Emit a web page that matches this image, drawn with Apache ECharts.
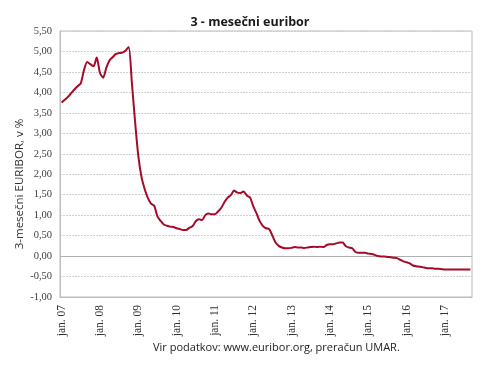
<!DOCTYPE html>
<html>
<head>
<meta charset="utf-8">
<script src="https://cdn.jsdelivr.net/npm/echarts@6/dist/echarts.min.js"></script>
<style>
html,body{margin:0;padding:0;background:#fff;}
#chart{width:490px;height:367px;}
</style>
</head>
<body>
<div id="chart"></div>
<script>
// Data: 3-month Euribor, monthly, Jan 2007 - Sep 2017 (%)
var years = ['07','08','09','10','11','12','13','14','15','16','17'];
var monthNames = ['jan.','feb.','mar.','apr.','maj','jun.','jul.','avg.','sep.','okt.','nov.','dec.'];
var values2007 = [3.75,3.82,3.89,3.98,4.07,4.15,4.22,4.54,4.74,4.69,4.64,4.85];
var values2008 = [4.48,4.36,4.60,4.78,4.86,4.94,4.96,4.97,5.02,5.11,4.24,3.29];
var values2009 = [2.46,1.94,1.64,1.42,1.28,1.23,0.97,0.86,0.77,0.74,0.72,0.71];
var values2010 = [0.68,0.66,0.64,0.64,0.69,0.73,0.85,0.90,0.88,1.00,1.04,1.02];
var values2011 = [1.02,1.09,1.18,1.32,1.43,1.49,1.60,1.55,1.54,1.58,1.48,1.43];
var values2012 = [1.22,1.05,0.86,0.74,0.68,0.66,0.50,0.33,0.25,0.21,0.19,0.19];
var values2013 = [0.20,0.22,0.21,0.21,0.20,0.21,0.22,0.23,0.22,0.23,0.22,0.27];
var values2014 = [0.29,0.29,0.31,0.33,0.33,0.24,0.21,0.19,0.10,0.08,0.08,0.08];
var values2015 = [0.06,0.05,0.03,0.00,-0.01,-0.01,-0.02,-0.03,-0.04,-0.05,-0.09,-0.13];
var values2016 = [-0.15,-0.18,-0.23,-0.25,-0.26,-0.27,-0.29,-0.30,-0.30,-0.31,-0.31,-0.32];
var values2017 = [-0.33,-0.33,-0.33,-0.33,-0.33,-0.33,-0.33,-0.33,-0.33];
var yTicks = {min: -1, max: 5.5, interval: 0.5};
var titleText = '3 - mesečni euribor';
var yName = '3-mesečni EURIBOR, v %';
var sourceText = 'Vir podatkov: www.euribor.org, preračun UMAR.';

var values = [].concat(values2007, values2008, values2009, values2010, values2011,
  values2012, values2013, values2014, values2015, values2016, values2017);
var categories = [];
for (var i = 0; i < values.length; i++) {
  categories.push(monthNames[i % 12] + ' ' + years[Math.floor(i / 12)]);
}

var chart = echarts.init(document.getElementById('chart'), null, {renderer: 'canvas'});
chart.setOption({
  animation: false,
  backgroundColor: '#ffffff',
  title: {
    text: titleText,
    left: 245,
    textAlign: 'center',
    top: 11,
    textStyle: {fontFamily: 'Open Sans', fontWeight: 'bold', fontSize: 12.5, color: '#1a1a1a'}
  },
  grid: {
    left: 60, right: 18, top: 31, bottom: 70,
    show: true, borderColor: '#bdbdbd', borderWidth: 1
  },
  xAxis: {
    type: 'category',
    data: categories,
    boundaryGap: true,
    axisLine: {show: true, onZero: false, lineStyle: {color: '#bdbdbd'}},
    axisTick: {show: false},
    axisLabel: {
      interval: function (idx) { return idx % 12 === 0; },
      rotate: 90,
      margin: 8,
      fontFamily: 'Liberation Serif',
      fontSize: 11.5,
      color: '#333333'
    },
    splitLine: {show: false}
  },
  yAxis: {
    type: 'value',
    min: yTicks.min, max: yTicks.max, interval: yTicks.interval,
    axisLine: {show: true, lineStyle: {color: '#bdbdbd'}},
    axisTick: {show: false},
    axisLabel: {
      formatter: function (v) { return v.toFixed(2).replace('.', ','); },
      fontFamily: 'Liberation Serif',
      fontSize: 10.5,
      color: '#404040',
      margin: 8
    },
    splitLine: {show: true, lineStyle: {color: '#cfcfcf', type: [2, 1], width: 1}}
  },
  series: [{
    type: 'line',
    data: values,
    showSymbol: false,
    smooth: 0.25,
    lineStyle: {color: '#a50a28', width: 2},
    itemStyle: {color: '#a50a28'},
    z: 3,
    markLine: {
      silent: true,
      symbol: 'none',
      label: {show: false},
      lineStyle: {color: '#b0b0b0', type: 'solid', width: 1},
      data: [{yAxis: 0}],
      z: 1
    }
  }],
  graphic: [{
    type: 'text',
    x: 20,
    y: 184,
    rotation: Math.PI / 2,
    style: {
      text: yName,
      fontFamily: 'Open Sans',
      fontSize: 11.5,
      fill: '#333333',
      align: 'center',
      verticalAlign: 'middle'
    }
  }, {
    type: 'text',
    left: 153,
    top: 342,
    style: {
      text: sourceText,
      fontFamily: 'Open Sans',
      fontSize: 11,
      fill: '#222222'
    }
  }]
});
</script>
</body>
</html>
